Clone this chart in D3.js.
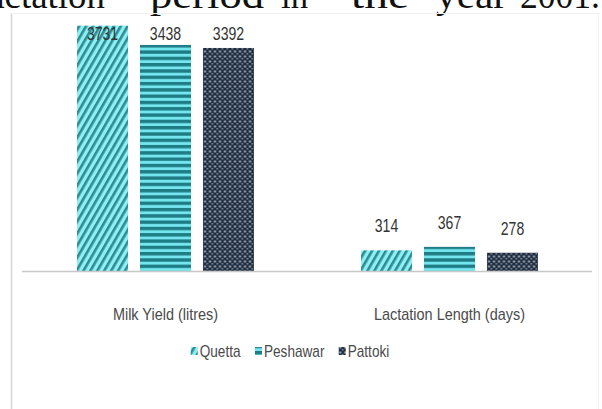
<!DOCTYPE html>
<html>
<head>
<meta charset="utf-8">
<script src="https://cdn.jsdelivr.net/npm/d3@7/dist/d3.min.js"></script>
<style>
  html, body { margin: 0; padding: 0; background: #fff; }
  svg { display: block; }
</style>
</head>
<body>
<svg id="chart" width="602" height="409"></svg>
<script>
// ---- data ----
const categories = ["Milk Yield (litres)", "Lactation Length (days)"];
const seriesNames = ["Quetta", "Peshawar", "Pattoki"];
const quetta = [3731, 314];
const peshawar = [3438, 367];
const pattoki = [3392, 278];
const headerWords = ["lactation", "period", "in", "the", "year", "2001."];

const values = [quetta, peshawar, pattoki];
const table = categories.map((c, i) => ({
  category: c,
  bars: seriesNames.map((s, j) => ({ series: s, value: values[j][i] }))
}));

const svg = d3.select("#chart");
const W = 602, H = 409;
const font = "'Liberation Sans', Arial, sans-serif";

// horizontally condense text (the reference uses a narrow face)
function condense(sel, factor) {
  sel.each(function () {
    const w = this.getComputedTextLength();
    d3.select(this).attr("textLength", w * factor).attr("lengthAdjust", "spacingAndGlyphs");
  });
}

// ---- patterns ----
const defs = svg.append("defs");
const pQ = defs.append("pattern").attr("id", "pat-Quetta")
  .attr("patternUnits", "userSpaceOnUse").attr("width", 6).attr("height", 6)
  .attr("patternTransform", "rotate(30)");
pQ.append("rect").attr("width", 6).attr("height", 6).attr("fill", "#8cf0f4");
pQ.append("rect").attr("x", 0).attr("width", 2.6).attr("height", 6).attr("fill", "#2f8a92");

const pP = defs.append("pattern").attr("id", "pat-Peshawar")
  .attr("patternUnits", "userSpaceOnUse").attr("width", 6).attr("height", 6.3);
pP.append("rect").attr("width", 6).attr("height", 6.3).attr("fill", "#74e6ee");
pP.append("rect").attr("y", 0).attr("width", 6).attr("height", 3.4).attr("fill", "#1f7c85");

const pK = defs.append("pattern").attr("id", "pat-Pattoki")
  .attr("patternUnits", "userSpaceOnUse").attr("width", 5).attr("height", 5);
pK.append("rect").attr("width", 5).attr("height", 5).attr("fill", "#1f2c3e");
pK.append("rect").attr("x", 0.5).attr("y", 0.5).attr("width", 2).attr("height", 2).attr("fill", "#aab8c6");
pK.append("rect").attr("x", 3).attr("y", 3).attr("width", 1.6).attr("height", 1.6).attr("fill", "#7f90a2");

// ---- header text (scanned page fragment, cut at the top edge) ----
const headerX = [-22, 150, 281, 351, 436, 520];
const headerW = [127, 114, 27, 58, 71, 80];
svg.append("g").selectAll("text").data(headerWords).join("text")
  .attr("x", (d, i) => headerX[i])
  .attr("y", 8)
  .attr("textLength", (d, i) => headerW[i])
  .attr("lengthAdjust", "spacingAndGlyphs")
  .attr("font-family", "'Liberation Serif', 'DejaVu Serif', serif")
  .attr("font-size", 38)
  .attr("fill", "#111")
  .text(d => d);

// ---- chart frame ----
svg.append("line").attr("x1", 11.5).attr("x2", 11.5).attr("y1", 13).attr("y2", H)
  .attr("stroke", "#d4d4d4").attr("stroke-width", 1.5);
svg.append("line").attr("x1", 11).attr("x2", 598).attr("y1", 13.5).attr("y2", 13.5)
  .attr("stroke", "#f0f0f0").attr("stroke-width", 1);
svg.append("line").attr("x1", 598.5).attr("x2", 598.5).attr("y1", 13).attr("y2", H)
  .attr("stroke", "#f3f3f3").attr("stroke-width", 1);

// ---- scales ----
const x0 = d3.scaleBand().domain(categories).range([23.5, 591.5]).paddingInner(0).paddingOuter(0);
const x1 = d3.scaleBand().domain(seriesNames).range([0, x0.bandwidth()])
  .paddingInner(0.19).paddingOuter(0.85);
const y = d3.scaleLinear().domain([0, 4000]).range([271, 8]);

// ---- bars ----
const groups = svg.append("g").selectAll("g").data(table).join("g")
  .attr("transform", d => `translate(${x0(d.category)},0)`);

groups.selectAll("rect").data(d => d.bars).join("rect")
  .attr("x", d => x1(d.series))
  .attr("y", d => y(d.value))
  .attr("width", x1.bandwidth())
  .attr("height", d => y(0) - y(d.value))
  .attr("fill", d => `url(#pat-${d.series})`);

groups.selectAll("text").data(d => d.bars).join("text")
  .attr("x", d => x1(d.series) + x1.bandwidth() / 2)
  .attr("y", d => Math.max(y(d.value) - 18, 40))
  .attr("text-anchor", "middle")
  .attr("font-family", font)
  .attr("font-size", 19)
  .attr("fill", "#333")
  .text(d => d.value)
  .call(condense, 0.74);

// ---- baseline ----
svg.append("line").attr("x1", 22).attr("x2", 592).attr("y1", y(0) + 0.5).attr("y2", y(0) + 0.5)
  .attr("stroke", "#c8c8c8").attr("stroke-width", 1.5);

// ---- category axis ----
const xAxis = svg.append("g").attr("transform", `translate(0,${y(0)})`)
  .call(d3.axisBottom(x0).tickSize(0).tickPadding(37));
xAxis.select(".domain").remove();
xAxis.selectAll("text")
  .attr("font-family", font)
  .attr("font-size", 17)
  .attr("fill", "#4a4a4a")
  .call(condense, 0.85);

// ---- legend ----
const legend = svg.append("g").attr("transform", "translate(0,351)");
const items = legend.selectAll("g").data(seriesNames).join("g");
items.append("rect").attr("x", 0).attr("y", -4).attr("width", 7).attr("height", 8)
  .attr("fill", d => `url(#pat-${d})`);
items.append("text").attr("x", 9).attr("y", 0).attr("dy", "0.35em")
  .attr("font-family", font).attr("font-size", 17).attr("fill", "#4a4a4a")
  .text(d => d)
  .call(condense, 0.8);
let cursor = 0;
const offsets = [];
items.each(function () {
  offsets.push(cursor);
  cursor += this.getBBox().width + 14;
});
const totalW = cursor - 14;
const startX = 290 - totalW / 2;
items.attr("transform", (d, i) => `translate(${startX + offsets[i]},0)`);
</script>
</body>
</html>
